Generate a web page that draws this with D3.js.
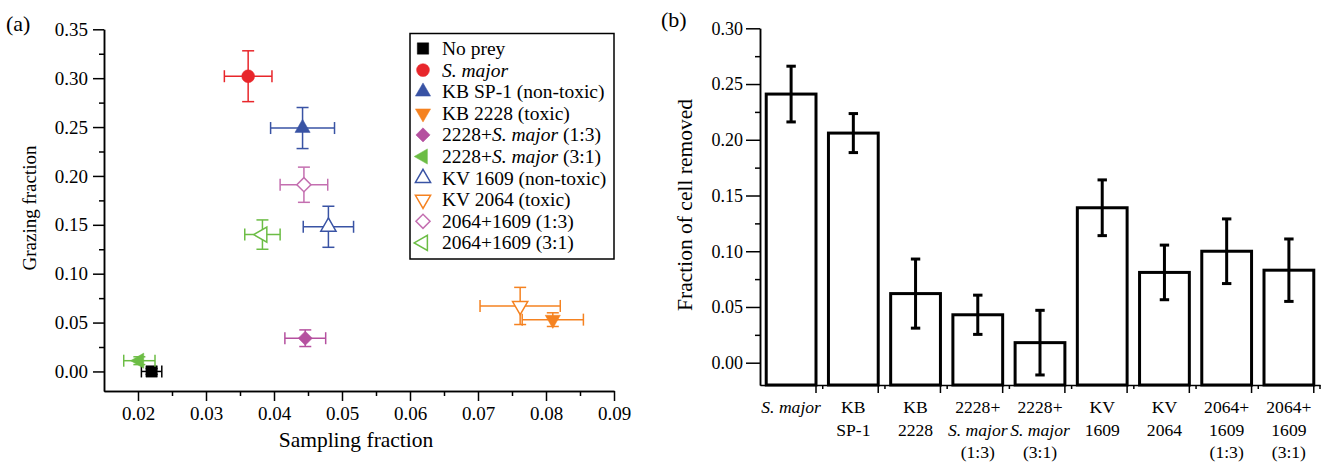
<!DOCTYPE html>
<html>
<head>
<meta charset="utf-8">
<script src="https://cdn.jsdelivr.net/npm/d3@7"></script>
<style>
  body { margin: 0; background: #fff; }
  svg, svg text { font-family: "Liberation Serif", "Times New Roman", serif; }
  .axis path, .axis line { stroke: #000; stroke-width: 1.5; }
  .axis text { fill: #000; }
</style>
</head>
<body>
<svg id="chart" width="1330" height="463"></svg>
<script>
// ---- panel (a) data ----
var groups = ["No prey", "S. major", "KB SP-1 (non-toxic)", "KB 2228 (toxic)", "2228+S. major (1:3)",
  "2228+S. major (3:1)", "KV 1609 (non-toxic)", "KV 2064 (toxic)", "2064+1609 (1:3)", "2064+1609 (3:1)"];
var samplingFrac = [0.0220, 0.0362, 0.0442, 0.0810, 0.0446, 0.0202, 0.0480, 0.0762, 0.0444, 0.0383];
var samplingErr  = [0.0015, 0.0035, 0.0047, 0.0045, 0.0030, 0.0023, 0.0037, 0.0059, 0.0035, 0.0026];
var grazingFrac  = [0.000, 0.302, 0.249, 0.053, 0.034, 0.011, 0.148, 0.067, 0.191, 0.140];
var grazingErr   = [0.003, 0.026, 0.021, 0.007, 0.0085, 0.004, 0.021, 0.019, 0.018, 0.015];
var groupColors  = ["#000000", "#e8262b", "#3953a4", "#f58220", "#b5509f", "#6cbd45", "#3953a4", "#f58220", "#c46fb0", "#6cbd45"];
var groupShapes  = ["square", "circle", "up", "down", "diamond", "left", "up", "down", "diamond", "left"];
var groupFilled  = [true, true, true, true, true, true, false, false, false, false];
var xTicksA = [0.02, 0.03, 0.04, 0.05, 0.06, 0.07, 0.08, 0.09];
var yTicksA = [0.00, 0.05, 0.10, 0.15, 0.20, 0.25, 0.30, 0.35];

// ---- panel (b) data ----
var categories = ["S. major", "KB SP-1", "KB 2228", "2228+S. major (1:3)", "2228+S. major (3:1)",
  "KV 1609", "KV 2064", "2064+1609 (1:3)", "2064+1609 (3:1)"];
var catLabels = [["S. major"], ["KB", "SP-1"], ["KB", "2228"], ["2228+", "S. major", "(1:3)"], ["2228+", "S. major", "(3:1)"],
  ["KV", "1609"], ["KV", "2064"], ["2064+", "1609", "(1:3)"], ["2064+", "1609", "(3:1)"]];
var cellRemoved = [0.241, 0.206, 0.062, 0.043, 0.018, 0.139, 0.081, 0.100, 0.083];
var cellErr     = [0.025, 0.0175, 0.031, 0.0176, 0.029, 0.025, 0.0245, 0.029, 0.028];
var yTicksB = [0.00, 0.05, 0.10, 0.15, 0.20, 0.25, 0.30];

var svg = d3.select("#chart");
var fmt = d3.format(".2f");
var SERIF = "Liberation Serif, Times New Roman, serif";

// write text, italicising "S. major"
function richText(sel, str) {
  var parts = str.split(/(S\. major)/);
  parts.forEach(function(p) {
    if (p === "") return;
    sel.append("tspan").attr("font-style", p === "S. major" ? "italic" : null).text(p);
  });
}

function symbolPath(shape) {
  if (shape === "square") return d3.symbol(d3.symbolSquare, 130)();
  if (shape === "circle") return d3.symbol(d3.symbolCircle, 130)();
  if (shape === "diamond") return d3.symbol(d3.symbolSquare, 100)();
  return d3.symbol(d3.symbolTriangle, 100)();
}
function symbolRotate(shape) {
  if (shape === "down") return 180;
  if (shape === "left") return -90;
  if (shape === "diamond") return 45;
  return 0;
}

function drawMarker(g, i, cx, cy) {
  g.append("path")
    .attr("d", symbolPath(groupShapes[i]))
    .attr("transform", "translate(" + cx + "," + cy + ") rotate(" + symbolRotate(groupShapes[i]) + ")")
    .attr("fill", groupFilled[i] ? groupColors[i] : "#fff")
    .attr("stroke", groupColors[i])
    .attr("stroke-width", groupFilled[i] ? 0.5 : 1.5);
}

function styleAxis(g, size) {
  g.attr("font-family", SERIF).attr("font-size", size);
}

// =================== panel (a) ===================
var xa = d3.scaleLinear().domain([0.015, 0.09]).range([104, 614]);
var ya = d3.scaleLinear().domain([-0.02, 0.35]).range([391, 29.3]);

var gA = svg.append("g");

gA.append("g").attr("class", "axis")
  .attr("transform", "translate(0," + ya.range()[0] + ")")
  .call(d3.axisBottom(xa).tickValues(d3.range(0.025, 0.09, 0.01)).tickSize(5).tickSizeOuter(0).tickFormat(""));
gA.append("g").attr("class", "axis")
  .attr("transform", "translate(0," + ya.range()[0] + ")")
  .call(d3.axisBottom(xa).tickValues(xTicksA).tickSize(10).tickSizeOuter(0).tickFormat(fmt).tickPadding(6))
  .call(styleAxis, 19);

gA.append("g").attr("class", "axis")
  .attr("transform", "translate(" + xa.range()[0] + ",0)")
  .call(d3.axisLeft(ya).tickValues(d3.range(0.025, 0.35, 0.05)).tickSize(5).tickSizeOuter(0).tickFormat(""));
gA.append("g").attr("class", "axis")
  .attr("transform", "translate(" + xa.range()[0] + ",0)")
  .call(d3.axisLeft(ya).tickValues(yTicksA).tickSize(11).tickSizeOuter(0).tickFormat(fmt).tickPadding(5))
  .call(styleAxis, 19);

gA.append("text").attr("x", 356).attr("y", 447).attr("text-anchor", "middle")
  .attr("font-size", 21.5).text("Sampling fraction");
gA.append("text").attr("transform", "translate(36,208) rotate(-90)").attr("text-anchor", "middle")
  .attr("font-size", 19).text("Grazing fraction");
gA.append("text").attr("x", 6).attr("y", 31).attr("font-size", 22).text("(a)");

// error bars + markers
var capA = 6;
groups.forEach(function(name, i) {
  var cx = xa(samplingFrac[i]), cy = ya(grazingFrac[i]);
  var x0 = xa(samplingFrac[i] - samplingErr[i]), x1 = xa(samplingFrac[i] + samplingErr[i]);
  var y0 = ya(grazingFrac[i] - grazingErr[i]), y1 = ya(grazingFrac[i] + grazingErr[i]);
  var eg = gA.append("g").attr("stroke", groupColors[i]).attr("stroke-width", 1.5).attr("fill", "none");
  eg.append("line").attr("x1", x0).attr("x2", x1).attr("y1", cy).attr("y2", cy);
  eg.append("line").attr("x1", x0).attr("x2", x0).attr("y1", cy - capA).attr("y2", cy + capA);
  eg.append("line").attr("x1", x1).attr("x2", x1).attr("y1", cy - capA).attr("y2", cy + capA);
  eg.append("line").attr("x1", cx).attr("x2", cx).attr("y1", y0).attr("y2", y1);
  eg.append("line").attr("x1", cx - capA).attr("x2", cx + capA).attr("y1", y0).attr("y2", y0);
  eg.append("line").attr("x1", cx - capA).attr("x2", cx + capA).attr("y1", y1).attr("y2", y1);
  drawMarker(gA, i, cx, cy);
});

// legend
var leg = gA.append("g");
leg.append("rect").attr("x", 410).attr("y", 33.5).attr("width", 204).attr("height", 225.5)
  .attr("fill", "#fff").attr("stroke", "#000").attr("stroke-width", 1.5);
groups.forEach(function(name, i) {
  var ry = 48.5 + i * 21.6;
  drawMarker(leg, i, 423, ry);
  var t = leg.append("text").attr("x", 442).attr("y", ry).attr("dy", "0.33em").attr("font-size", 19.5);
  richText(t, name);
});

// =================== panel (b) ===================
var xb = d3.scaleBand().domain(categories).range([760, 1320]).paddingInner(0.2).paddingOuter(0.1);
var yb = d3.scaleLinear().domain([-0.02, 0.30]).range([385, 28.3]);

var gB = svg.append("g");

gB.append("g").attr("class", "axis")
  .attr("transform", "translate(" + xb.range()[0] + ",0)")
  .call(d3.axisLeft(yb).tickValues(d3.range(0.025, 0.30, 0.05)).tickSize(5).tickSizeOuter(0).tickFormat(""));
gB.append("g").attr("class", "axis")
  .attr("transform", "translate(" + xb.range()[0] + ",0)")
  .call(d3.axisLeft(yb).tickValues(yTicksB).tickSize(14).tickSizeOuter(0).tickFormat(fmt).tickPadding(3))
  .call(styleAxis, 18);

// bars
gB.selectAll("rect.bar").data(categories).enter().append("rect")
  .attr("class", "bar")
  .attr("x", function(d) { return xb(d); })
  .attr("width", xb.bandwidth())
  .attr("y", function(d, i) { return yb(cellRemoved[i]); })
  .attr("height", function(d, i) { return yb.range()[0] - yb(cellRemoved[i]); })
  .attr("fill", "#fff").attr("stroke", "#000").attr("stroke-width", 3);

// x axis: short ticks between categories, longer ticks at category centres
var bounds = categories.map(function(d) { return xb(d) - xb.step() * xb.paddingInner() / 2; }).slice(1);
gB.append("g").attr("class", "axis")
  .attr("transform", "translate(0," + yb.range()[0] + ")")
  .call(d3.axisBottom(d3.scaleLinear().domain(xb.range()).range(xb.range())).tickValues(bounds).tickSize(4).tickSizeOuter(0).tickFormat(""));
gB.append("g").attr("class", "axis")
  .attr("transform", "translate(" + (xb.bandwidth() / 2) + "," + yb.range()[0] + ")")
  .call(d3.axisBottom(xb).tickSize(8).tickSizeOuter(0).tickFormat(""))
  .select(".domain").remove();
gB.append("line").attr("x1", xb.range()[1]).attr("x2", xb.range()[1])
  .attr("y1", yb.range()[0]).attr("y2", yb.range()[0] + 4).attr("stroke", "#000").attr("stroke-width", 1.5);

// error bars
var capB = 4.7;
categories.forEach(function(c, i) {
  var cx = xb(c) + xb.bandwidth() / 2;
  var y0 = yb(cellRemoved[i] - cellErr[i]), y1 = yb(cellRemoved[i] + cellErr[i]);
  var eg = gB.append("g").attr("stroke", "#000").attr("stroke-width", 3);
  eg.append("line").attr("x1", cx).attr("x2", cx).attr("y1", y0).attr("y2", y1);
  eg.append("line").attr("x1", cx - capB).attr("x2", cx + capB).attr("y1", y0).attr("y2", y0);
  eg.append("line").attr("x1", cx - capB).attr("x2", cx + capB).attr("y1", y1).attr("y2", y1);
});

// category labels
categories.forEach(function(c, i) {
  var cx = xb(c) + xb.bandwidth() / 2;
  catLabels[i].forEach(function(line, j) {
    var t = gB.append("text").attr("x", cx).attr("y", 413 + j * 22.5)
      .attr("text-anchor", "middle").attr("font-size", 17.6);
    richText(t, line);
  });
});

gB.append("text").attr("transform", "translate(692,205) rotate(-90)").attr("text-anchor", "middle")
  .attr("font-size", 21.5).text("Fraction of cell removed");
gB.append("text").attr("x", 661).attr("y", 27).attr("font-size", 22).text("(b)");
</script>
</body>
</html>
